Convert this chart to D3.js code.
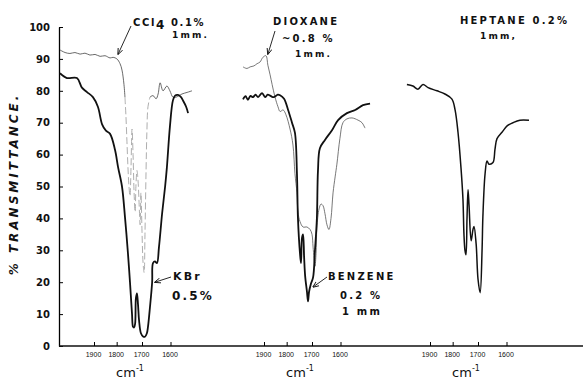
<!DOCTYPE html>
<html>
<head>
<meta charset="utf-8">
<script src="https://cdn.jsdelivr.net/npm/d3@7"></script>
<style>
  body { margin: 0; background: #fff; }
  svg text { font-family: "DejaVu Sans", "Liberation Sans", sans-serif; font-weight: bold; fill: #111; }
  svg .tick text { font-family: "Liberation Sans", sans-serif; font-weight: normal; }
</style>
</head>
<body>
<svg id="chart"></svg>
<script>
// spectra as [wavenumber cm-1, % transmittance]
const kbr = [[2073,85.5],[2035,84],[1983,84],[1958,81],[1933,79.6],[1905,78],[1882,75],[1863,69.5],[1846,67.5],[1828,66.5],[1807,61.5],[1794,56],[1778,50],[1766,40.5],[1754,29],[1746,20],[1738,10],[1734,6],[1730,5.8],[1726,7],[1723,15],[1719,16.5],[1715,13],[1711,8],[1704,4],[1696,3],[1689,2.9],[1682,4],[1678,6],[1671,12],[1663,20],[1660,26],[1653,26.5],[1646,26],[1639,31],[1628,41.7],[1618,50],[1612,56],[1602,68.7],[1592,77],[1585,78.5],[1576,78.7],[1566,78],[1560,77],[1550,75],[1544,73]]

const ccl4 = [[2073,92.8],[2045,92],[2019,91.7],[1993,92],[1967,91.5],[1943,91.8],[1919,91.2],[1895,91.4],[1872,90.8],[1850,91],[1828,90.3],[1815,90.5],[1799,90],[1786,88.5],[1778,86.5],[1770,82],[1766,78],[1762,72],[1758,64],[1754,56],[1750,50],[1746,47],[1742,56],[1738,68],[1734,60],[1730,48],[1726,42],[1723,50],[1719,55],[1715,52],[1711,45],[1707,38],[1704,48],[1700,36],[1696,26],[1692,23],[1689,35],[1685,55],[1682,67],[1678,75],[1671,78],[1660,78.5],[1649,77.5],[1642,79],[1635,82.5],[1625,80],[1612,81.5],[1602,80],[1592,78],[1582,78],[1563,79],[1547,79.5],[1532,80]]

const dioxane = [[2003,87.5],[1983,87],[1967,87.5],[1948,87.8],[1933,88.5],[1919,89],[1905,90.5],[1891,91],[1882,88],[1872,85],[1863,82],[1850,78],[1837,75],[1828,73.5],[1815,74],[1803,72.5],[1786,68],[1774,63],[1766,54],[1758,48],[1754,42],[1746,39],[1734,37.3],[1719,37.3],[1707,36.5],[1700,35],[1696,31],[1689,25],[1685,29],[1682,37],[1674,43],[1667,44.5],[1660,44],[1653,41.5],[1646,38],[1639,36.5],[1632,40],[1625,48],[1618,53],[1612,57],[1602,65],[1592,70],[1579,71.2],[1563,71.5],[1544,70.8],[1532,70],[1523,68.3]]

const benzene = [[2003,77.3],[1990,78.3],[1978,77.2],[1965,78.4],[1953,78],[1940,78.8],[1928,78],[1909,79.3],[1895,78],[1883,78.8],[1872,78.5],[1860,78],[1850,78.2],[1838,78.8],[1828,78.6],[1811,77.5],[1794,74],[1778,70],[1766,66.8],[1758,54],[1754,40],[1746,29],[1742,26],[1738,34],[1734,35],[1730,28],[1726,22],[1719,17],[1715,14],[1711,17],[1704,19.5],[1696,21.5],[1689,30],[1682,40],[1678,55],[1671,62],[1653,64.6],[1628,67.7],[1608,70.8],[1579,73],[1553,74],[1529,75.5],[1508,76]]

const heptane = [[2014,82],[1983,81.5],[1958,80.5],[1933,82],[1909,81],[1868,80],[1833,79],[1803,77.4],[1790,74],[1778,67],[1766,56],[1758,46],[1754,35],[1750,30],[1746,28.6],[1742,40],[1738,49],[1734,44],[1726,33],[1719,36.5],[1715,37.5],[1707,32],[1700,21],[1692,16.7],[1685,30],[1682,40.5],[1674,54],[1667,58],[1660,57],[1646,57.5],[1639,61.6],[1632,65],[1615,67],[1598,69],[1579,70],[1557,70.8],[1529,70.8]]

const yTicks = [0, 10, 20, 30, 40, 50, 60, 70, 80, 90, 100]
const wnTicks = [1900, 1800, 1700, 1600]

const width = 583
const height = 380
const axisX = 59
const baseY = 346
const panelLeft = [94, 264, 430] // where 1900 cm-1 sits in each panel
const panelSpan = 76.5 // 1900 -> 1600, chart paper is linear in wavelength

const svg = d3.select("#chart").attr("width", width).attr("height", height)

svg.append("defs").append("marker")
    .attr("id", "arrow")
    .attr("viewBox", "0 0 10 10")
    .attr("refX", 9).attr("refY", 5)
    .attr("markerWidth", 7).attr("markerHeight", 7)
    .attr("orient", "auto")
    .append("path").attr("d", "M0,1 L10,5 L0,9").attr("fill", "none").attr("stroke", "#111").attr("stroke-width", 1.4)

const y = d3.scaleLinear().domain([0, 100]).range([baseY, 27])

const xs = panelLeft.map(left =>
    d3.scaleLinear().domain([1e4 / 1900, 1e4 / 1600]).range([left, left + panelSpan]))
const px = (panel, wn) => xs[panel](1e4 / wn)

// y axis
svg.append("g")
    .attr("transform", `translate(${axisX},0)`)
    .call(d3.axisLeft(y).tickValues(yTicks).tickSizeInner(-4).tickSizeOuter(0).tickPadding(9))
    .attr("font-size", 10)
    .call(g => g.select(".domain").attr("stroke-width", 1.3))
    .call(g => g.selectAll(".tick text").style("font-family", "DejaVu Sans").style("font-weight", "bold"))

svg.append("text")
    .attr("transform", `translate(18,${184}) rotate(-90)`)
    .attr("text-anchor", "middle")
    .attr("font-size", 12)
    .attr("font-style", "italic")
    .attr("letter-spacing", 3)
    .text("% TRANSMITTANCE.")

// base line across all three panels
svg.append("line")
    .attr("x1", axisX).attr("x2", width)
    .attr("y1", baseY).attr("y2", baseY)
    .attr("stroke", "#111").attr("stroke-width", 1.4)

xs.forEach((s, i) => {
    const g = svg.append("g")
        .attr("transform", `translate(0,${baseY})`)
        .call(d3.axisBottom(s)
            .tickValues(wnTicks.map(w => 1e4 / w))
            .tickFormat(v => Math.round(1e4 / v))
            .tickSize(-4).tickPadding(6))
        .attr("font-size", 7)
    g.select(".domain").remove()
    g.selectAll(".tick text").attr("dx", -1)

    const label = svg.append("text")
        .attr("x", panelLeft[i] + 36).attr("y", 377)
        .attr("text-anchor", "middle")
        .attr("font-size", 13)
        .style("font-weight", "normal")
    label.append("tspan").text("cm")
    label.append("tspan").attr("dy", -6).attr("font-size", 8).text("-1")
})

const line = panel => d3.line()
    .x(d => px(panel, d[0]))
    .y(d => y(d[1]))
    .curve(d3.curveCatmullRom.alpha(0.5))

const draw = (data, panel, stroke, w, dash) => {
    svg.append("path")
        .datum(data)
        .attr("d", line(panel))
        .attr("fill", "none")
        .attr("stroke", stroke)
        .attr("stroke-width", w)
        .attr("stroke-linejoin", "round")
        .attr("stroke-dasharray", dash || null)
}

// CCl4: the pen was too fast through the band, so that part is faint
draw(ccl4.filter(d => d[0] >= 1766), 0, "#444", 0.8)
draw(ccl4.filter(d => d[0] <= 1766 && d[0] >= 1671), 0, "#999", 0.8, "7,3")
draw(ccl4.filter(d => d[0] <= 1671), 0, "#444", 0.8)
draw(kbr, 0, "#111", 1.8)

draw(dioxane, 1, "#555", 0.8)
draw(benzene, 1, "#111", 1.8)

draw(heptane, 2, "#111", 1.5)

// labels and arrows
const arrow = (x1, y1, x2, y2) => svg.append("line")
    .attr("x1", x1).attr("y1", y1).attr("x2", x2).attr("y2", y2)
    .attr("stroke", "#111").attr("stroke-width", 0.9)
    .attr("marker-end", "url(#arrow)")

const label = (x, yy, txt, size) => svg.append("text")
    .attr("x", x).attr("y", yy)
    .attr("font-size", size || 10)
    .attr("letter-spacing", 2.2)
    .text(txt)

const ccl = svg.append("text").attr("x", 133).attr("y", 26).attr("font-size", 10).attr("letter-spacing", 1.6)
ccl.append("tspan").text("CCl")
ccl.append("tspan").attr("dy", 3).attr("font-size", 12).text("4")
ccl.append("tspan").attr("dy", -3).text(" 0.1%")
label(172, 38, "1mm.", 9)
arrow(131, 26, px(0, 1794), y(91.5))

label(273, 25, "DIOXANE")
label(282, 42, "~0.8 %")
label(295, 57, "1mm.", 9)
arrow(275, 31, px(1, 1882), y(91.5))

label(460, 24, "HEPTANE 0.2%")
label(480, 39, "1mm,", 9)

label(173, 280, "KBr", 11)
label(172, 300, "0.5%", 12)
arrow(171, 277, px(0, 1653), y(20))

label(328, 280, "BENZENE")
label(340, 299, "0.2 %")
label(342, 315, "1 mm")
arrow(327, 277, px(1, 1696), y(18.5))
</script>
</body>
</html>
